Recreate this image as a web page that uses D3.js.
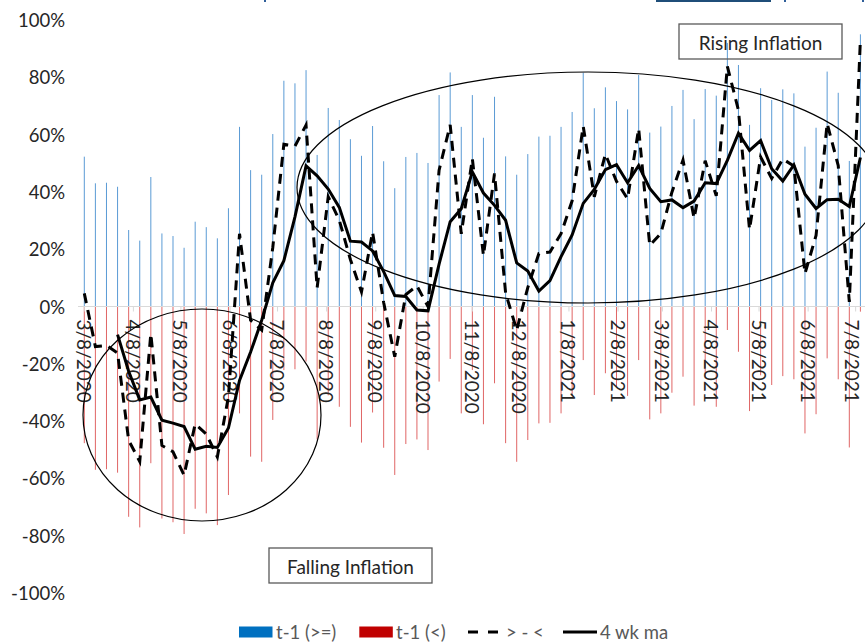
<!DOCTYPE html>
<html><head><meta charset="utf-8">
<script src="https://cdn.jsdelivr.net/npm/d3@7"></script>
<style>body{margin:0;background:#fff}svg{display:block}text{font-family:Lato,"Open Sans",sans-serif}</style>
</head><body><svg id="c" width="865" height="643"></svg>
<script>
const weeks = ["2020-03-08","2020-03-15","2020-03-22","2020-03-29","2020-04-05","2020-04-12","2020-04-19","2020-04-26","2020-05-03","2020-05-10",
"2020-05-17","2020-05-24","2020-05-31","2020-06-07","2020-06-14","2020-06-21","2020-06-28","2020-07-05","2020-07-12","2020-07-19",
"2020-07-26","2020-08-02","2020-08-09","2020-08-16","2020-08-23","2020-08-30","2020-09-06","2020-09-13","2020-09-20","2020-09-27",
"2020-10-04","2020-10-11","2020-10-18","2020-10-25","2020-11-01","2020-11-08","2020-11-15","2020-11-22","2020-11-29","2020-12-06",
"2020-12-13","2020-12-20","2020-12-27","2021-01-03","2021-01-10","2021-01-17","2021-01-24","2021-01-31","2021-02-07","2021-02-14",
"2021-02-21","2021-02-28","2021-03-07","2021-03-14","2021-03-21","2021-03-28","2021-04-04","2021-04-11","2021-04-18","2021-04-25",
"2021-05-02","2021-05-09","2021-05-16","2021-05-23","2021-05-30","2021-06-06","2021-06-13","2021-06-20","2021-06-27","2021-07-04","2021-07-11"];
const tickLabels = ["3/8/2020","4/8/2020","5/8/2020","6/8/2020","7/8/2020","8/8/2020","9/8/2020","10/8/2020","11/8/2020","12/8/2020",
"1/8/2021","2/8/2021","3/8/2021","4/8/2021","5/8/2021","6/8/2021","7/8/2021"];
const yTicks = [100,80,60,40,20,0,-20,-40,-60,-80,-100];
// t-1 (>=)
const above = [52.3,43,43.2,41.8,26.7,23,45.2,25.5,24.6,20.5,
29.6,27.7,23.8,34.3,62.7,47.6,46,60.2,78.8,77.9,
82.5,52.9,69.3,65.1,58.4,52.6,63,50.7,41.3,52.2,
53.6,50.1,73.8,81.7,62.7,73.8,58.9,73.2,52.4,46,
53.2,59.3,59.6,62.7,67.9,81.6,69.2,76.5,71.7,68.8,
80.8,60.7,62.8,70,75.6,65.4,75.9,73.6,92,84.3,
63.4,76.2,72.1,75.8,74.4,55.8,62.4,82,74.6,50.8,95];
// t-1 (<)
const below = [-47.7,-57,-56.8,-58,-73.4,-77.1,-54.7,-74,-75.3,-79.4,
-70.6,-72.2,-76.3,-65.8,-37.3,-52.4,-54.2,-39.6,-22.2,-21.9,
-19.2,-46.4,-31,-35,-42,-47.5,-37,-49.3,-58.8,-48,
-46.4,-50.1,-26.2,-18.3,-37.3,-22.2,-41.1,-26.8,-47.7,-54.2,
-46.6,-40.8,-40.6,-37.3,-31,-18.7,-30.9,-23.3,-28,-31.2,
-18.7,-39.4,-37.3,-30.1,-24.5,-34.6,-25,-35,-8.2,-15.8,
-36.5,-24,-27.4,-24.3,-25.4,-44.3,-37.6,-18.1,-25.4,-49.2,-1.8];
// > - <
const diff = [4.6,-14,-13.6,-16.2,-46.7,-54.1,-9.5,-48.5,-50.7,-58.9,
-41,-44.5,-52.5,-31.5,25.4,-4.8,-8.2,20.6,56.6,56,
63.3,6.5,38.3,30.1,16.4,5.1,26,1.4,-17.5,4.2,
7.2,0,47.6,63.4,25.4,51.6,17.8,46.4,4.7,-8.2,
6.6,18.5,19,25.4,36.9,62.9,38.3,53.2,43.7,37.6,
62.1,21.3,25.5,39.9,51.1,30.8,50.9,38.6,83.8,68.5,
26.9,52.2,44.7,51.5,49,11.5,24.8,63.9,49.2,1.6,93.2];
// 4 wk ma
const ma4 = [null,null,null,-9.8,-22.6,-32.6,-31.6,-39.7,-40.7,-41.9,
-49.8,-48.8,-49.2,-42.4,-25.8,-15.9,-4.8,8.3,16,31.3,
49.1,45.6,41,34.6,22.8,22.5,19.4,12.2,3.8,3.5,
-1.2,-1.5,14.8,29.6,34.1,47,39.6,35.3,30.1,15.2,
12.4,5.4,9,17.4,25,36,40.9,47.8,49.5,43.2,
49.2,41.2,36.6,37.2,34.5,36.8,43.2,42.9,51,60.5,
54.5,57.9,48.1,43.8,49.4,39.2,34.2,37.3,37.4,34.9,52];
const seriesNames = ["t-1 (>=)","t-1 (<)","> - <","4 wk ma"];
const annotations = ["Rising Inflation","Falling Inflation"];

const svg = d3.select("#c");
const parse = d3.timeParse("%Y-%m-%d");
const parseTick = d3.timeParse("%m/%d/%Y");
const fmtPct = v => v + "%";
const dates = weeks.map(parse);
const x = d3.scaleTime().domain([dates[0], dates[dates.length-1]]).range([84.3, 860.4]);
const y = d3.scaleLinear().domain([-100,100]).range([593,20]);

// title remnants at the top edge
svg.append("rect").attr("x",656).attr("y",0).attr("width",115).attr("height",2).attr("fill","#1f4e79");
[[264,0],[784,0],[862,0]].forEach(p=>svg.append("rect").attr("x",p[0]).attr("y",p[1]).attr("width",2).attr("height",2).attr("fill","#2f5f9a"));

// bars
svg.append("g").selectAll("rect").data(above).join("rect")
  .attr("x",(d,i)=>x(dates[i])-0.5).attr("width",1)
  .attr("y",d=>y(d)).attr("height",d=>y(0)-y(d)).attr("fill","#5b9bd5");
svg.append("g").selectAll("rect").data(below).join("rect")
  .attr("x",(d,i)=>x(dates[i])-0.5).attr("width",1)
  .attr("y",y(0)).attr("height",d=>y(d)-y(0)).attr("fill","#e06666");

// axis line & ticks
svg.append("line").attr("x1",78).attr("x2",865).attr("y1",y(0)).attr("y2",y(0)).attr("stroke","#d9d9d9").attr("stroke-width",1);
const tickDates = tickLabels.map(parseTick);
svg.append("g").selectAll("line").data(tickDates).join("line")
  .attr("x1",d=>x(d)).attr("x2",d=>x(d)).attr("y1",y(0)).attr("y2",y(0)+5).attr("stroke","#d9d9d9");
svg.append("g").selectAll("text").data(tickDates).join("text")
  .attr("transform",d=>`translate(${Math.min(x(d),852)},${y(0)+13}) rotate(90)`)
  .attr("text-anchor","start").attr("dominant-baseline","central")
  .attr("font-size",19).attr("fill","#262626").text((d,i)=>tickLabels[i]);

// y labels
svg.append("g").selectAll("text").data(yTicks).join("text")
  .attr("x",65).attr("y",d=>y(d)).attr("text-anchor","end").attr("dominant-baseline","central")
  .attr("font-size",18.5).attr("fill","#262626").text(fmtPct);

// lines
const line = d3.line().defined(d=>d.v!=null).x(d=>x(d.t)).y(d=>y(d.v));
svg.append("path").datum(diff.map((v,i)=>({t:dates[i],v})))
  .attr("d",line).attr("fill","none").attr("stroke","#000").attr("stroke-width",3).attr("stroke-dasharray","10,7");
svg.append("path").datum(ma4.map((v,i)=>({t:dates[i],v})))
  .attr("d",line).attr("fill","none").attr("stroke","#000").attr("stroke-width",3).attr("stroke-linejoin","miter");

// ellipses
svg.append("ellipse").attr("cx",202).attr("cy",415).attr("rx",119).attr("ry",106)
  .attr("fill","none").attr("stroke","#000").attr("stroke-width",1.2);
svg.append("ellipse").attr("cx",588).attr("cy",187.5).attr("rx",291).attr("ry",115.5)
  .attr("fill","none").attr("stroke","#000").attr("stroke-width",1.2);

// annotation boxes
const boxes = [{x:679,y:24,w:163,h:35,t:annotations[0]},{x:269,y:548,w:163,h:35,t:annotations[1]}];
boxes.forEach(b=>{
  svg.append("rect").attr("x",b.x).attr("y",b.y).attr("width",b.w).attr("height",b.h)
    .attr("fill","none").attr("stroke","#595959").attr("stroke-width",1.3);
  svg.append("text").attr("x",b.x+b.w/2).attr("y",b.y+b.h/2+1).attr("text-anchor","middle")
    .attr("dominant-baseline","central").attr("font-size",19).attr("fill","#262626").text(b.t);
});

// legend
const ly = 632;
const lg = svg.append("g");
lg.append("rect").attr("x",239).attr("y",ly-5.5).attr("width",33.5).attr("height",11).attr("fill","#0070c0");
lg.append("rect").attr("x",359.3).attr("y",ly-5.5).attr("width",33.5).attr("height",11).attr("fill","#c00000");
lg.append("line").attr("x1",468).attr("x2",498).attr("y1",ly).attr("y2",ly).attr("stroke","#000").attr("stroke-width",3).attr("stroke-dasharray","10,10");
lg.append("line").attr("x1",563).attr("x2",597).attr("y1",ly).attr("y2",ly).attr("stroke","#000").attr("stroke-width",3);
[276,396,506,600].forEach((lx,i)=>lg.append("text").attr("x",lx).attr("y",ly).attr("dominant-baseline","central")
  .attr("font-size",18.5).attr("fill","#595959").text(seriesNames[i]));
</script></body></html>
